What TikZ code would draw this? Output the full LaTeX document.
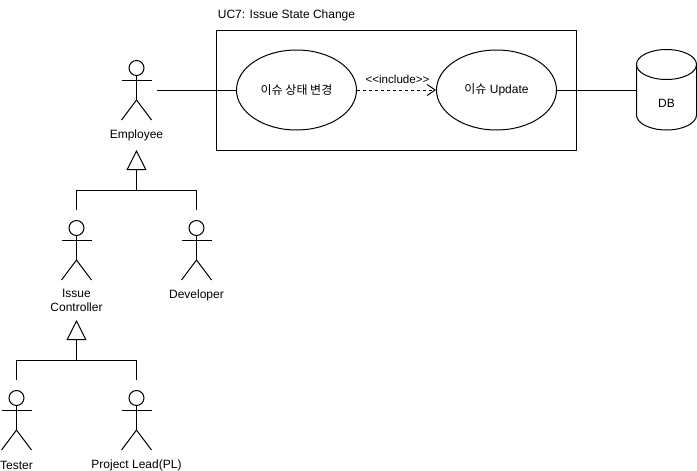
\documentclass[tikz,border=0pt]{standalone}
\usepackage{fontspec}
\setmainfont{Liberation Sans}
\newfontfamily\krfont{Noto Sans CJK KR}
\usetikzlibrary{arrows.meta,shapes.geometric}
\tikzset{
  actor/.pic={
    \draw (0,0) circle (7.5pt);
    \draw (0,7.5)--(0,32);
    \draw (-15,12)--(15,12);
    \draw (-15,52)--(0,32)--(15,52);
  },
  usecase/.style={draw,ellipse,minimum width=120pt,minimum height=80pt,inner sep=0pt},
  label/.style={align=center,inner sep=0pt,font=\fontsize{12}{14}\selectfont},
  gen/.style={-{Triangle[open,length=20pt,width=20pt,fill=white]}},
  incl/.style={dash pattern=on 3pt off 3pt,-{Straight Barb[length=8pt,width=11pt]}}
}
\begin{document}
\begin{tikzpicture}[x=1pt,y=-1pt,line width=1pt]
    \useasboundingbox (0,0) rectangle (697,471);

    % Draw system box
    \node[draw,minimum width=360pt,minimum height=120pt,inner sep=0pt] (box) at (396.5,90) {};
    \node[label] (title) at (286.5,15) {UC7: Issue State Change};

    % Draw use cases
    \node[usecase,label] (change) at (296.5,90) {\raisebox{1pt}{\krfont 이슈 상태 변경}};
    \node[usecase,label] (update) at (496.5,90) {\raisebox{1pt}{{\krfont 이슈} Update}};
    \node[label,font=\fontsize{11.6}{14}\selectfont] (include) at (397.5,79) {{<}{<}include{>}{>}};

    % Draw database
    \node[minimum width=60pt,minimum height=80pt,inner sep=0pt] (db) at (666.5,90) {};
    \draw (db.north)+(0,15) ellipse [x radius=30pt,y radius=15pt];
    \draw (636.5,65)--(636.5,115) arc [start angle=180,end angle=360,x radius=30pt,y radius=15pt]--(696.5,65);
    \node[label] (dbtext) at (666.5,103) {DB};

    % Draw actors
    \pic at (136.5,68) {actor};
    \pic at (76.5,228) {actor};
    \pic at (196.5,228) {actor};
    \pic at (16.5,398) {actor};
    \pic at (136.5,398) {actor};

    % Add actor labels
    \node[label] (employee) at (136.5,135) {Employee};
    \node[label] (controller) at (76.5,300.5) {Issue\\Controller};
    \node[label] (developer) at (196.5,295) {Developer};
    \node[label] (tester) at (16.5,465) {Tester};
    \node[label] (lead) at (136.5,465) {Project Lead(PL)};

    % Define connector ends
    \coordinate (hand) at (157,90);
    \coordinate (tipA) at (136.5,150); \coordinate (joinA) at (136.5,190); \coordinate (leftA) at (76.5,190); \coordinate (rightA) at (196.5,190); \coordinate (endL) at (76.5,210); \coordinate (endR) at (196.5,210);
    \coordinate (tipB) at (76.5,320); \coordinate (joinB) at (76.5,360); \coordinate (leftB) at (16.5,360); \coordinate (rightB) at (136.5,360); \coordinate (endT) at (16.5,380); \coordinate (endP) at (136.5,380);

    % Draw associations
    \draw (hand)--(change);
    \draw (update)--(db.west);
    \draw[incl] (change)--(update);

    % Draw generalizations
    \draw (endL)--(leftA)--(rightA)--(endR);
    \draw[gen] (joinA)--(tipA);
    \draw (endT)--(leftB)--(rightB)--(endP);
    \draw[gen] (joinB)--(tipB);

  \end{tikzpicture}
\end{document}
